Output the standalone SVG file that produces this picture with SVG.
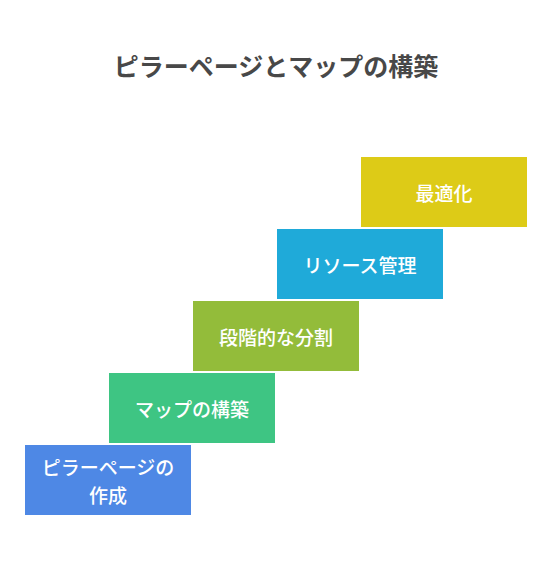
<svg xmlns="http://www.w3.org/2000/svg" width="552" height="564" viewBox="0 0 552 564">
<style>
.t{font-family:"Noto Sans CJK JP","Noto Sans",sans-serif;font-weight:bold;font-size:25px;fill:#484848;text-anchor:middle;dominant-baseline:central}
.l{font-family:"Noto Sans CJK JP","Noto Sans",sans-serif;font-weight:500;font-size:19px;fill:#ffffff;text-anchor:middle;dominant-baseline:central}
</style>
<rect width="552" height="564" fill="#ffffff"/>
<text class="t" x="276" y="65">ピラーページとマップの構築</text>
<g id="connectors"></g>
<g id="n1"><rect x="25" y="445" width="166" height="70" fill="#4E88E5"/><text class="l" x="108" y="466">ピラーページの</text><text class="l" x="108" y="494.5">作成</text></g>
<g id="n2"><rect x="109" y="373" width="166" height="70" fill="#3EC583"/><text class="l" x="192" y="408">マップの構築</text></g>
<g id="n3"><rect x="193" y="301" width="166" height="70" fill="#93BC3A"/><text class="l" x="276" y="336">段階的な分割</text></g>
<g id="n4"><rect x="277" y="229" width="166" height="70" fill="#1FAAD9"/><text class="l" x="360" y="264">リソース管理</text></g>
<g id="n5"><rect x="361" y="157" width="166" height="70" fill="#DDCB17"/><text class="l" x="444" y="192">最適化</text></g>
</svg>
